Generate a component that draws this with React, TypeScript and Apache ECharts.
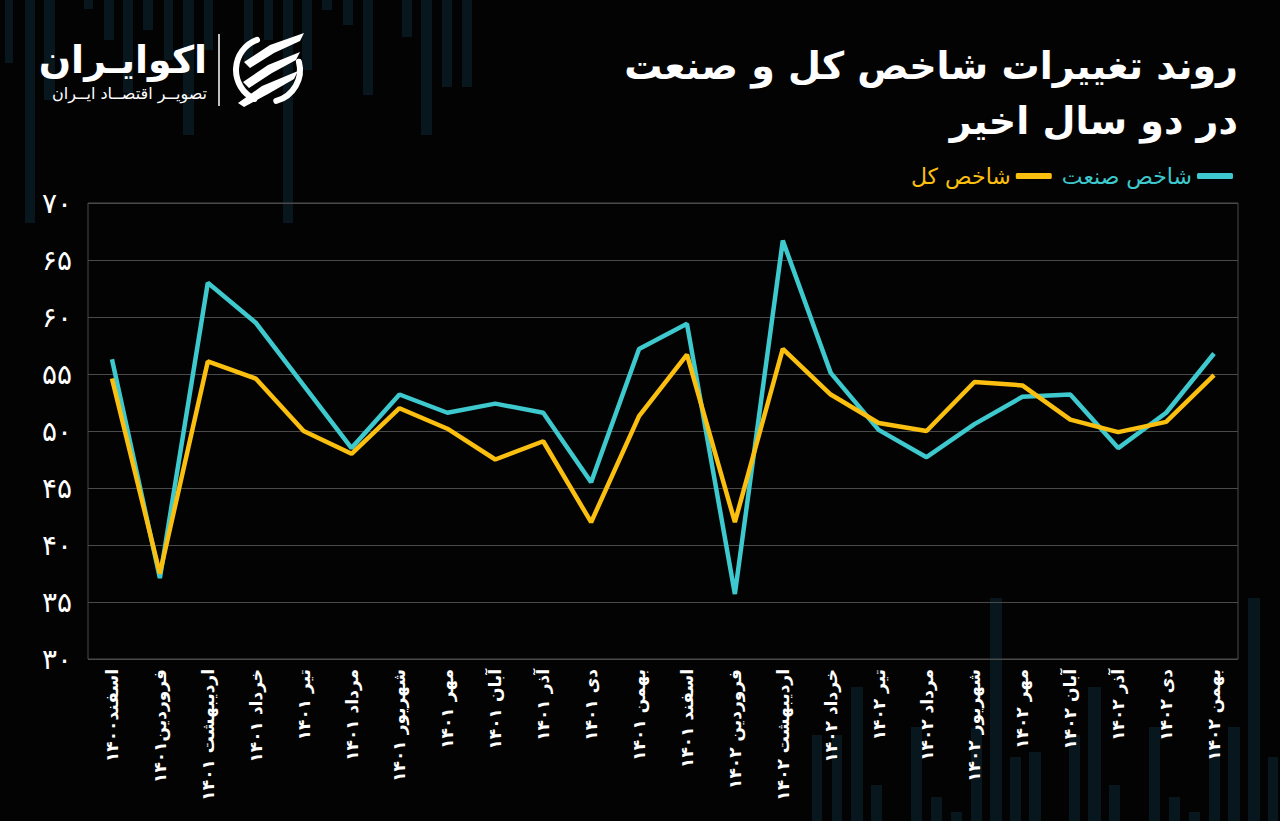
import React, { useEffect, useRef } from "react";
import * as echarts from "echarts";

const categories = [
  "اسفند۱۴۰۰", "فروردین۱۴۰۱", "اردیبهشت ۱۴۰۱", "خرداد ۱۴۰۱", "تیر ۱۴۰۱", "مرداد ۱۴۰۱",
  "شهریور ۱۴۰۱", "مهر ۱۴۰۱", "آبان ۱۴۰۱", "آذر ۱۴۰۱", "دی ۱۴۰۱", "بهمن ۱۴۰۱",
  "اسفند ۱۴۰۱", "فروردین ۱۴۰۲", "اردیبهشت ۱۴۰۲", "خرداد ۱۴۰۲", "تیر ۱۴۰۲", "مرداد ۱۴۰۲",
  "شهریور ۱۴۰۲", "مهر ۱۴۰۲", "آبان ۱۴۰۲", "آذر ۱۴۰۲", "دی ۱۴۰۲", "بهمن ۱۴۰۲",
];

const industryIndex = [
  56.3, 37.1, 63.0, 59.5, 54.0, 48.5, 53.2, 51.6, 52.4, 51.6, 45.5, 57.2,
  59.4, 35.7, 66.7, 55.1, 50.1, 47.7, 50.6, 53.0, 53.2, 48.5, 51.6, 56.8,
];

const totalIndex = [
  54.6, 37.5, 56.1, 54.6, 50.0, 48.0, 52.0, 50.2, 47.5, 49.1, 42.0, 51.3,
  56.7, 42.0, 57.2, 53.2, 50.7, 50.0, 54.3, 54.0, 51.0, 49.9, 50.8, 54.9,
];

const seriesNames = ["شاخص کل", "شاخص صنعت"];
const titleLines = ["روند تغییرات شاخص کل و صنعت", "در دو سال اخیر"];
const yMin = 30;
const yMax = 70;
const yStep = 5;

// decorative background stripes [x, width, y0, y1]
const topStripes = [
  [5, 8, 0, 63], [25, 10, 0, 223], [44, 11, 0, 100], [84, 9, 0, 9], [104, 10, 0, 40],
  [123, 10, 0, 93], [143, 10, 0, 30], [164, 9, 0, 60], [183, 11, 0, 135], [204, 9, 0, 50],
  [244, 9, 0, 63], [264, 9, 0, 40], [283, 10, 0, 223], [302, 10, 0, 70], [322, 10, 0, 10],
  [343, 10, 0, 25], [363, 10, 0, 95], [402, 10, 0, 37], [421, 11, 0, 135], [442, 10, 0, 87],
  [462, 10, 0, 87],
];
const bottomStripes = [
  [812, 10, 735, 821], [832, 10, 735, 821], [851, 12, 687, 821], [871, 11, 785, 821],
  [911, 11, 727, 821], [931, 11, 797, 821], [951, 11, 812, 821], [971, 11, 728, 821],
  [990, 12, 598, 821], [1010, 11, 757, 821], [1029, 12, 752, 821], [1069, 11, 735, 821],
  [1088, 13, 687, 821], [1109, 11, 785, 821], [1149, 11, 727, 821], [1169, 11, 797, 821],
  [1189, 11, 812, 821], [1209, 11, 747, 821], [1228, 12, 727, 821], [1248, 12, 598, 821],
  [1268, 10, 757, 821],
];

const toFa = (v: number | string) =>
  String(v).replace(/\d/g, (d) => "۰۱۲۳۴۵۶۷۸۹"[+d]);

const FONT = "'DejaVu Sans', sans-serif";
const CYAN = "#3dc9cd";
const YELLOW = "#fbbf10";
const GRID = "#4a4a4a";
const STRIPE = "#08171d";

export default function App() {
  const ref = useRef<HTMLDivElement>(null);

  useEffect(() => {
    if (!ref.current) return;
    const chart = echarts.init(ref.current, null, { renderer: "svg" });

    const stripeEls = [...topStripes, ...bottomStripes].map(([x, w, y0, y1]) => ({
      type: "rect",
      z: -10,
      silent: true,
      shape: { x, y: y0, width: w, height: y1 - y0 },
      style: { fill: STRIPE },
    }));

    const cx = 268;
    const cy = 70;
    const r = 32;
    const logoEls: any[] = [
      {
        type: "arc",
        shape: { cx, cy, r, startAngle: (115 * Math.PI) / 180, endAngle: (250 * Math.PI) / 180 },
        style: { stroke: "#ffffff", lineWidth: 6, fill: "none", lineCap: "round" },
      },
      {
        type: "arc",
        shape: { cx, cy, r, startAngle: (-15 * Math.PI) / 180, endAngle: (75 * Math.PI) / 180 },
        style: { stroke: "#ffffff", lineWidth: 6, fill: "none", lineCap: "round" },
      },
      {
        type: "polygon",
        shape: { points: [[244, 62], [270, 45], [304, 33], [300, 41], [274, 53], [250, 68]] },
        style: { fill: "#ffffff" },
      },
      {
        type: "polygon",
        shape: { points: [[243, 82], [268, 65], [300, 52], [296, 60], [272, 73], [249, 88]] },
        style: { fill: "#ffffff" },
      },
      {
        type: "polygon",
        shape: { points: [[238, 103], [262, 86], [298, 71], [294, 79], [268, 94], [244, 107]] },
        style: { fill: "#ffffff" },
      },
      {
        type: "line",
        shape: { x1: 219, y1: 34, x2: 219, y2: 106 },
        style: { stroke: "#ffffff", lineWidth: 1.5 },
      },
      {
        type: "text",
        x: 207,
        y: 60,
        style: {
          text: "اکوایـران",
          fill: "#ffffff",
          font: `bold 38px ${FONT}`,
          textAlign: "right",
          textVerticalAlign: "middle",
        },
      },
      {
        type: "text",
        x: 207,
        y: 93,
        style: {
          text: "تصویــر اقتصــاد ایــران",
          fill: "#ffffff",
          font: `16px ${FONT}`,
          textAlign: "right",
          textVerticalAlign: "middle",
        },
      },
    ];

    const titleEls = titleLines.map((t, i) => ({
      type: "text",
      x: 1238,
      y: 66 + i * 55,
      style: {
        text: t,
        fill: "#ffffff",
        font: `bold 38px ${FONT}`,
        textAlign: "right",
        textVerticalAlign: "middle",
      },
    }));

    chart.setOption({
      animation: false,
      backgroundColor: "#030303",
      textStyle: { fontFamily: FONT },
      graphic: { elements: [...stripeEls, ...logoEls, ...titleEls] },
      legend: {
        right: 42,
        top: 160,
        align: "right",
        icon: "roundRect",
        itemWidth: 36,
        itemHeight: 6,
        itemGap: 10,
        data: [
          { name: seriesNames[0], textStyle: { color: YELLOW } },
          { name: seriesNames[1], textStyle: { color: CYAN } },
        ],
        textStyle: { fontSize: 22, fontFamily: FONT },
      },
      grid: {
        left: 88,
        right: 42,
        top: 203,
        bottom: 162,
        show: true,
        borderColor: GRID,
        borderWidth: 1,
        backgroundColor: "transparent",
      },
      xAxis: {
        type: "category",
        data: categories,
        boundaryGap: true,
        axisLine: { show: false },
        axisTick: { show: false },
        axisLabel: {
          color: "#ffffff",
          fontSize: 17,
          fontWeight: "bold",
          rotate: 90,
          margin: 10,
          interval: 0,
          fontFamily: FONT,
        },
      },
      yAxis: {
        type: "value",
        min: yMin,
        max: yMax,
        interval: yStep,
        axisLine: { show: false },
        axisTick: { show: false },
        splitLine: { lineStyle: { color: GRID, width: 1 } },
        axisLabel: {
          color: "#ffffff",
          fontSize: 28,
          margin: 16,
          fontFamily: FONT,
          formatter: (v: number) => toFa(v),
        },
      },
      series: [
        {
          name: seriesNames[1],
          type: "line",
          data: industryIndex,
          showSymbol: false,
          symbol: "none",
          lineStyle: { color: CYAN, width: 4.5 },
          itemStyle: { color: CYAN },
          z: 3,
        },
        {
          name: seriesNames[0],
          type: "line",
          data: totalIndex,
          showSymbol: false,
          symbol: "none",
          lineStyle: { color: YELLOW, width: 4.5 },
          itemStyle: { color: YELLOW },
          z: 4,
        },
      ],
    });

    return () => chart.dispose();
  }, []);

  return (
    <div
      ref={ref}
      style={{ position: "fixed", left: 0, top: 0, width: 1280, height: 821 }}
    />
  );
}
